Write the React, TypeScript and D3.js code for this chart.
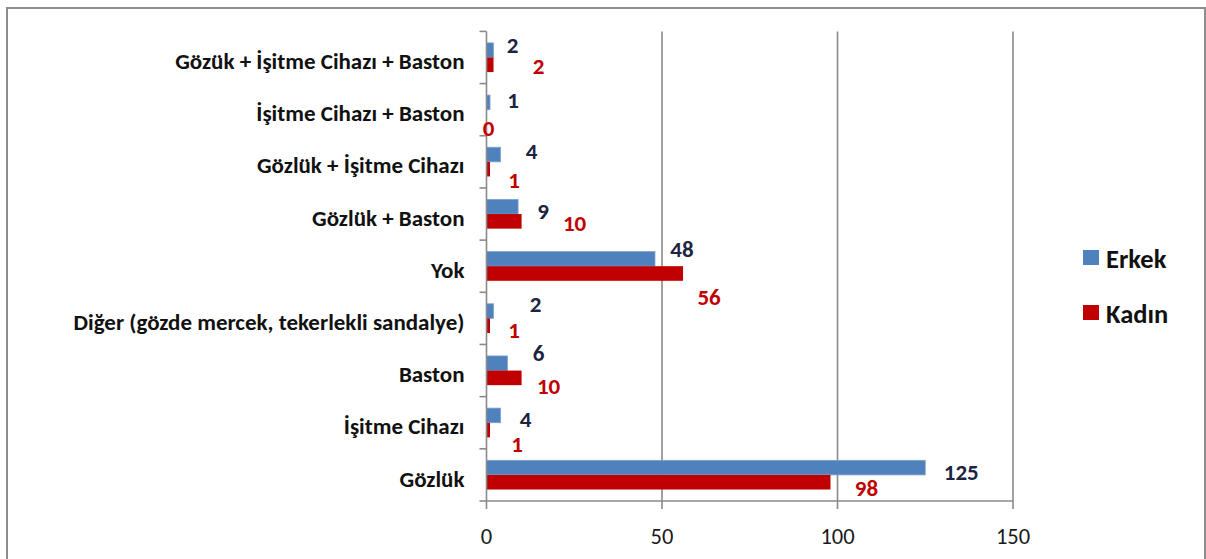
import * as d3 from "d3";
import { useEffect, useRef } from "react";

// categories listed top to bottom, as in the chart
const categories = [
  "Gözük + İşitme Cihazı + Baston",
  "İşitme Cihazı + Baston",
  "Gözlük + İşitme Cihazı",
  "Gözlük + Baston",
  "Yok",
  "Diğer (gözde mercek, tekerlekli sandalye)",
  "Baston",
  "İşitme Cihazı",
  "Gözlük",
];
const erkek = [2, 1, 4, 9, 48, 2, 6, 4, 125];
const kadin = [2, 0, 1, 10, 56, 1, 10, 1, 98];
const seriesNames = ["Erkek", "Kadın"];
const xTicks = [0, 50, 100, 150];

// data labels were dragged by hand in the original; offsets from the bar end / band centre
const erkekLabelShift = [
  [19, -12], [23, -9], [31, -10], [25, -3], [27, -17], [42, -14], [31, -17], [25, -3], [36, -3],
];
const kadinLabelShift = [
  [45, 9], [2, 19], [24, 19], [53, 9], [26, 31], [24, 12], [27, 16], [27, 22], [36, 13],
];

const WIDTH = 1206;
const HEIGHT = 559;
const FONT = "Carlito, Lato, 'Open Sans', sans-serif";

export default function App() {
  const svgRef = useRef<SVGSVGElement>(null);

  useEffect(() => {
    if (!svgRef.current) return;
    const svg = d3.select(svgRef.current);
    svg.selectAll("*").remove();

    const plot = { left: 486.5, right: 1013, top: 31.4, bottom: 501 };
    const colors = ["#4F81BD", "#C00000"];
    const labelColors = ["#1B2541", "#C00000"];
    const gridColor = "#8a8a8a";

    // outer chart border
    svg
      .append("rect")
      .attr("x", 7)
      .attr("y", 8)
      .attr("width", 1198)
      .attr("height", 620)
      .style("fill", "white")
      .style("stroke", "#8d8d8d")
      .style("stroke-width", 2);

    const xScale = d3.scaleLinear().domain([0, 150]).range([plot.left, plot.right]);

    const yScale = d3
      .scaleBand<string>()
      .domain(categories)
      .range([plot.top, plot.bottom])
      .paddingInner(0.44)
      .paddingOuter(0.22);

    const inner = d3
      .scaleBand<string>()
      .domain(seriesNames)
      .range([0, yScale.bandwidth()]);

    const step = yScale.step();
    const centre = (c: string) => (yScale(c) as number) + yScale.bandwidth() / 2;

    // vertical grid lines
    svg
      .append("g")
      .selectAll("line")
      .data(xTicks.filter((t) => t > 0))
      .enter()
      .append("line")
      .attr("x1", (d) => xScale(d))
      .attr("x2", (d) => xScale(d))
      .attr("y1", plot.top)
      .attr("y2", plot.bottom)
      .style("stroke", gridColor)
      .style("stroke-width", 1.6);

    // bars
    const seriesData = [erkek, kadin];
    seriesData.forEach((values, si) => {
      svg
        .append("g")
        .selectAll("rect")
        .data(values)
        .enter()
        .append("rect")
        .attr("x", xScale(0))
        .attr("y", (_, i) => (yScale(categories[i]) as number) + (inner(seriesNames[si]) as number))
        .attr("width", (d) => xScale(d) - xScale(0))
        .attr("height", inner.bandwidth())
        .style("fill", colors[si])
        .style("stroke", si === 0 ? "#7ea3d3" : "none")
        .style("stroke-width", 0.8);
    });

    // category axis
    const yAxis = svg.append("g");
    yAxis
      .append("line")
      .attr("x1", xScale(0))
      .attr("x2", xScale(0))
      .attr("y1", plot.top)
      .attr("y2", plot.bottom)
      .style("stroke", gridColor)
      .style("stroke-width", 1.6);
    yAxis
      .selectAll("line.tick")
      .data(d3.range(categories.length + 1))
      .enter()
      .append("line")
      .attr("class", "tick")
      .attr("x1", xScale(0) - 7)
      .attr("x2", xScale(0))
      .attr("y1", (i) => plot.top + i * step)
      .attr("y2", (i) => plot.top + i * step)
      .style("stroke", gridColor)
      .style("stroke-width", 1.6);
    yAxis
      .selectAll("text")
      .data(categories)
      .enter()
      .append("text")
      .attr("x", xScale(0) - 22)
      .attr("y", (d) => centre(d) + 4)
      .attr("dy", "0.33em")
      .attr("text-anchor", "end")
      .style("font-family", FONT)
      .style("font-weight", "bold")
      .style("font-size", "23px")
      .style("fill", "#111")
      .text((d) => d);

    // value axis
    const xAxis = svg.append("g");
    xAxis
      .append("line")
      .attr("x1", plot.left)
      .attr("x2", plot.right)
      .attr("y1", plot.bottom)
      .attr("y2", plot.bottom)
      .style("stroke", gridColor)
      .style("stroke-width", 1.6);
    xAxis
      .selectAll("line.tick")
      .data(xTicks)
      .enter()
      .append("line")
      .attr("class", "tick")
      .attr("x1", (d) => xScale(d))
      .attr("x2", (d) => xScale(d))
      .attr("y1", plot.bottom)
      .attr("y2", plot.bottom + 8)
      .style("stroke", gridColor)
      .style("stroke-width", 1.6);
    xAxis
      .selectAll("text")
      .data(xTicks)
      .enter()
      .append("text")
      .attr("x", (d) => xScale(d))
      .attr("y", plot.bottom + 36)
      .attr("dy", "0.33em")
      .attr("text-anchor", "middle")
      .style("font-family", FONT)
      .style("font-size", "22.5px")
      .style("fill", "#1a1a1a")
      .text((d) => d);

    // data labels
    const shifts = [erkekLabelShift, kadinLabelShift];
    seriesData.forEach((values, si) => {
      svg
        .append("g")
        .selectAll("text")
        .data(values)
        .enter()
        .append("text")
        .attr("x", (d, i) => xScale(d) + shifts[si][i][0])
        .attr("y", (_, i) => centre(categories[i]) + shifts[si][i][1])
        .attr("dy", "0.33em")
        .attr("text-anchor", "middle")
        .style("font-family", FONT)
        .style("font-weight", "bold")
        .style("font-size", "23px")
        .style("fill", labelColors[si])
        .text((d) => d);
    });

    // legend
    const legend = svg.append("g").attr("transform", "translate(1083, 250)");
    seriesNames.forEach((name, i) => {
      const item = legend.append("g").attr("transform", `translate(0, ${i * 55})`);
      item
        .append("rect")
        .attr("width", 16)
        .attr("height", 15)
        .style("fill", colors[i]);
      item
        .append("text")
        .attr("x", 23)
        .attr("y", 9)
        .attr("dy", "0.33em")
        .style("font-family", FONT)
        .style("font-weight", "bold")
        .style("font-size", "26.5px")
        .style("fill", "#111")
        .text(name);
    });
  }, []);

  return (
    <svg
      ref={svgRef}
      width={WIDTH}
      height={HEIGHT}
      style={{ position: "absolute", left: 0, top: 0, background: "white" }}
    />
  );
}
